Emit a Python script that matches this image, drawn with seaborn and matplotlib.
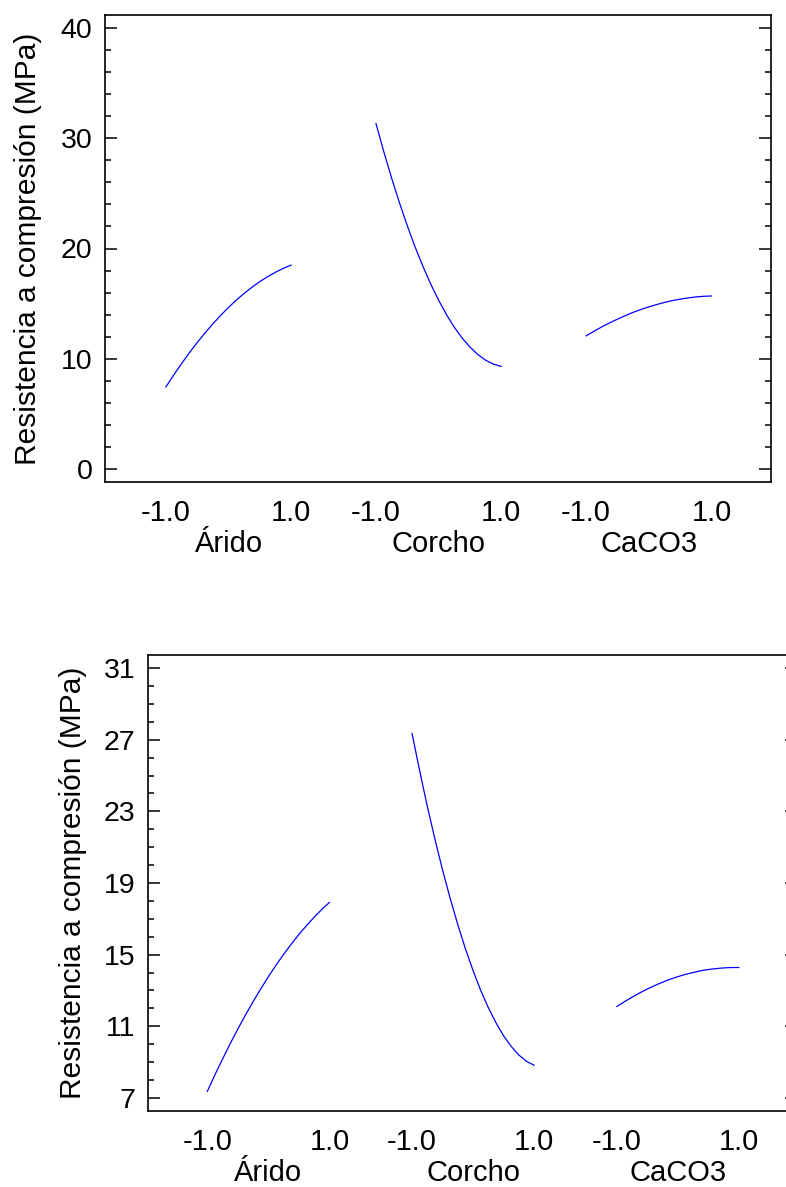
import matplotlib
matplotlib.use("Agg")
import matplotlib.pyplot as plt
from matplotlib.ticker import MultipleLocator
import numpy as np
import pandas as pd
import seaborn as sns

# Main effects on compressive strength: factor levels in coded units
factors = ["Árido", "Corcho", "CaCO3"]
levels = [-1.0, -0.875, -0.75, -0.625, -0.5, -0.375, -0.25, -0.125, 0.0,
          0.125, 0.25, 0.375, 0.5, 0.625, 0.75, 0.875, 1.0]
level_labels = ["-1.0", "1.0"]
ylabel = "Resistencia a compresión (MPa)"

# Upper panel (MPa)
upper_arido = [7.42, 8.51, 9.54, 10.53, 11.46, 12.33, 13.16, 13.93, 14.65,
               15.32, 15.93, 16.49, 17.00, 17.45, 17.85, 18.20, 18.50]
upper_corcho = [31.36, 28.80, 26.40, 24.16, 22.07, 20.14, 18.37, 16.76, 15.30,
                14.00, 12.85, 11.87, 11.05, 10.37, 9.86, 9.50, 9.30]
upper_caco3 = [12.06, 12.48, 12.88, 13.24, 13.58, 13.90, 14.20, 14.46, 14.70,
               14.91, 15.10, 15.27, 15.40, 15.51, 15.60, 15.66, 15.69]
upper_ymajor = [0, 10, 20, 30, 40]

# Lower panel (MPa)
lower_arido = [7.36, 8.29, 9.17, 10.03, 10.85, 11.63, 12.38, 13.09, 13.77,
               14.41, 15.02, 15.59, 16.13, 16.63, 17.09, 17.53, 17.92]
lower_corcho = [27.36, 25.27, 23.29, 21.45, 19.73, 18.14, 16.67, 15.32, 14.10,
                13.00, 12.03, 11.19, 10.46, 9.87, 9.39, 9.04, 8.82]
lower_caco3 = [12.10, 12.37, 12.62, 12.86, 13.08, 13.28, 13.46, 13.63, 13.77,
               13.90, 14.00, 14.10, 14.17, 14.22, 14.26, 14.28, 14.28]
lower_ymajor = [7, 11, 15, 19, 23, 27, 31]

sns.set_theme(style="ticks")
plt.rcParams["font.family"] = ["Liberation Sans", "DejaVu Sans"]

SPACING = 3.35          # distance between factor blocks on the x axis
XLIM = (-1.97, 8.65)
LINE_COLOR = "#0000FF"


def build_frame(series):
    rows = []
    for i, (name, vals) in enumerate(zip(factors, series)):
        for lv, v in zip(levels, vals):
            rows.append({"factor": name, "level": lv,
                         "pos": lv + i * SPACING, "value": v})
    return pd.DataFrame(rows)


def draw_panel(ax, df, ylim, major, minor_step):
    for name in factors:
        sub = df[df["factor"] == name]
        sns.lineplot(data=sub, x="pos", y="value", ax=ax, color=LINE_COLOR,
                     lw=0.9, estimator=None, sort=False)
    ax.set_xlim(*XLIM)
    ax.set_ylim(*ylim)

    centers = [i * SPACING for i in range(len(factors))]
    ends = []
    for c in centers:
        ends += [c - 1, c + 1]
    ax.set_xticks(ends, level_labels * len(factors))
    ax.set_xticks(centers, factors, minor=True)
    ax.tick_params(axis="x", which="both", length=0, labelsize=21,
                   colors="black")
    ax.tick_params(axis="x", which="major", pad=12)
    ax.tick_params(axis="x", which="minor", pad=34.5)

    ax.set_yticks(major)
    ax.yaxis.set_minor_locator(MultipleLocator(minor_step))
    ax.tick_params(axis="y", which="both", direction="in", left=True,
                   right=True, labelsize=20.5, pad=9, colors="black")
    ax.tick_params(axis="y", which="major", length=8.6, width=1.1)
    ax.tick_params(axis="y", which="minor", length=4.3, width=1.1)

    for sp in ax.spines.values():
        sp.set_visible(True)
        sp.set_linewidth(1.2)
        sp.set_color("black")

    ax.set_xlabel("")
    ax.set_ylabel(ylabel, fontsize=21.5, color="black")
    ax.yaxis.label.set_va("center")
    ax.yaxis.set_label_coords(-0.115, 0.5)
    ax.grid(False)


fig = plt.figure(figsize=(7.86, 11.87), dpi=100)
W, H = 786, 1187

ax1 = fig.add_axes([105 / W, 1 - 482 / H, 666 / W, 467 / H])
draw_panel(ax1, build_frame([upper_arido, upper_corcho, upper_caco3]),
           (-1.2, 41.2), upper_ymajor, 2)

ax2 = fig.add_axes([148 / W, 1 - 1111 / H, 649 / W, 456 / H])
draw_panel(ax2, build_frame([lower_arido, lower_corcho, lower_caco3]),
           (6.27, 31.73), lower_ymajor, 1)

fig.savefig("out.png", dpi=100, facecolor="white")
